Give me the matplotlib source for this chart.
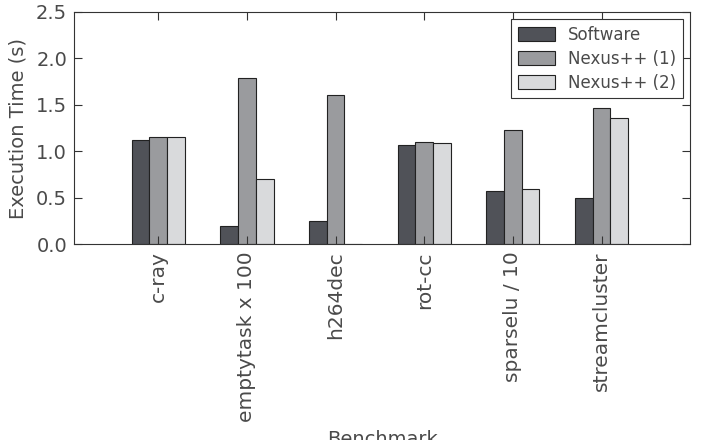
import numpy as np
import matplotlib.pyplot as plt

benchmarks = ['c-ray', 'emptytask x 100', 'h264dec', 'rot-cc', 'sparselu / 10', 'streamcluster']
software = [1.12, 0.20, 0.25, 1.07, 0.57, 0.50]
nexus1 = [1.15, 1.79, 1.61, 1.10, 1.23, 1.47]
nexus2 = [1.15, 0.70, 0.0, 1.09, 0.59, 1.36]

txt = '#4a4a4a'
plt.rcParams['font.family'] = 'DejaVu Sans'
plt.rcParams['text.color'] = txt
plt.rcParams['axes.labelcolor'] = txt
plt.rcParams['xtick.color'] = txt
plt.rcParams['ytick.color'] = txt

fig, ax = plt.subplots(figsize=(7.05, 4.4), dpi=100)
fig.subplots_adjust(left=0.105, right=0.979, top=0.973, bottom=0.445)

ind = np.arange(len(benchmarks))
w = 0.2
ax.bar(ind - w, software, w, color='#505258', edgecolor='#222222', lw=0.8, label='Software')
ax.bar(ind, nexus1, w, color='#9a9b9e', edgecolor='#222222', lw=0.8, label='Nexus++ (1)')
ax.bar(ind + w, nexus2, w, color='#d9dadc', edgecolor='#222222', lw=0.8, label='Nexus++ (2)')

ax.set_xlim(-0.95, 6.0)
ax.set_ylim(0, 2.5)
ax.set_yticks(np.arange(0, 2.51, 0.5))
ax.set_xticks(ind)
ax.set_xticklabels(benchmarks, rotation=90, fontsize=14.5)
ax.tick_params(axis='y', labelsize=14)
ax.tick_params(direction='in', top=True, right=True, length=6, width=0.8, color='#333333', pad=5)
for s in ax.spines.values():
    s.set_color('#333333')
ax.set_ylabel('Execution Time (s)', fontsize=14, labelpad=6)
ax.set_xlabel('Benchmark', fontsize=14, labelpad=6)

leg = ax.legend(loc='upper right', fontsize=12, fancybox=False, framealpha=1,
                edgecolor='#333333', handlelength=2.2, handleheight=0.9,
                borderaxespad=0.45, labelspacing=0.35)
leg.get_frame().set_linewidth(0.8)

fig.savefig('out.png', dpi=100)
